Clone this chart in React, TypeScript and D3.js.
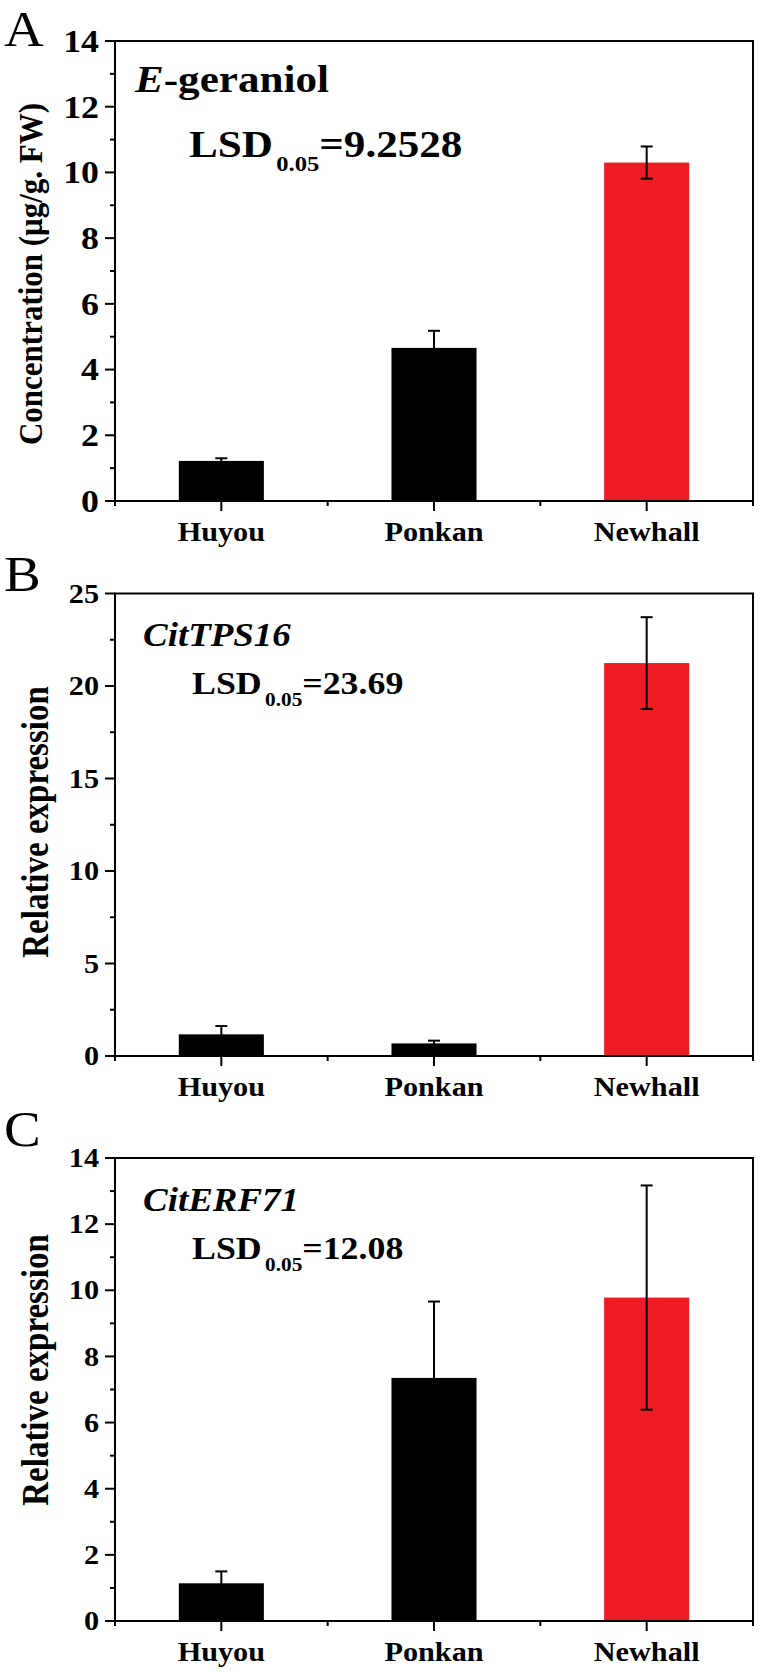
import React from "react";
import * as d3 from "d3";

const categories = ["Huyou", "Ponkan", "Newhall"];
const barColors = ["#000000", "#000000", "#ED1C24"];

const geraniolValues = [1.22, 4.66, 10.3];
const geraniolErrors = [0.08, 0.52, 0.49];

const tps16Values = [1.17, 0.68, 21.24];
const tps16Errors = [0.45, 0.15, 2.48];

const erf71Values = [1.14, 7.35, 9.78];
const erf71Errors = [0.36, 2.31, 3.39];

const SERIF = "'Liberation Serif', 'Times New Roman', serif";
const SX = 1.12;

type PanelProps = {
  letter: string;
  letterY: number;
  top: number;
  bottom: number;
  yMax: number;
  major: number;
  minor: number;
  values: number[];
  errors: number[];
  yTitle: string;
  titleX: number;
  titleY: number;
  titleSize: number;
  tickSize: number;
  label: React.ReactNode;
  labelX: number;
  labelY: number;
  labelSize: number;
  lsd: string;
  lsdX: number;
  lsdY: number;
  lsdSize: number;
  subSize: number;
  subDy: number;
};

function SText(props: {
  x: number;
  y: number;
  size: number;
  anchor?: string;
  bold?: boolean;
  dy?: string;
  sx?: number;
  children: React.ReactNode;
}) {
  const { x, y, size, anchor = "start", bold = true, dy, sx = SX, children } = props;
  return (
    <g transform={`translate(${x},${y}) scale(${sx},1)`}>
      <text
        x={0}
        y={0}
        dy={dy}
        fontFamily={SERIF}
        fontSize={size}
        fontWeight={bold ? "bold" : "normal"}
        textAnchor={anchor}
        fill="#000"
      >
        {children}
      </text>
    </g>
  );
}

const x = d3.scaleLinear().domain([0.5, 3.5]).range([115, 753]);

function Panel(p: PanelProps) {
  const y = d3.scaleLinear().domain([0, p.yMax]).range([p.bottom, p.top]);
  const majorTicks = d3.range(0, p.yMax + 1e-9, p.major);
  const minorTicks = d3
    .range(0, p.yMax + 1e-9, p.minor)
    .filter((v) => Math.abs(v / p.major - Math.round(v / p.major)) > 1e-6);
  const bw = x(1.4) - x(1);
  const cap = 6;
  const xMinor = [0.5, 1.5, 2.5, 3.5];
  return (
    <g>
      <SText x={4} y={p.letterY} size={51} bold={false} sx={1.08}>
        {p.letter}
      </SText>
      {p.values.map((v, i) => (
        <rect
          key={"b" + i}
          x={x(i + 1) - bw / 2}
          y={y(v)}
          width={bw}
          height={y(0) - y(v)}
          fill={barColors[i]}
        />
      ))}
      {p.values.map((v, i) => {
        const cx = x(i + 1);
        const hi = y(v + p.errors[i]);
        const lo = y(v - p.errors[i]);
        return (
          <g key={"e" + i} stroke="#000" strokeWidth={2}>
            <line x1={cx} x2={cx} y1={hi} y2={lo} />
            <line x1={cx - cap} x2={cx + cap} y1={hi} y2={hi} />
            <line x1={cx - cap} x2={cx + cap} y1={lo} y2={lo} />
          </g>
        );
      })}
      <rect
        x={x(0.5)}
        y={p.top}
        width={x(3.5) - x(0.5)}
        height={p.bottom - p.top}
        fill="none"
        stroke="#000"
        strokeWidth={2}
      />
      {majorTicks.map((t) => (
        <g key={"ym" + t}>
          <line x1={x(0.5) - 10} x2={x(0.5)} y1={y(t)} y2={y(t)} stroke="#000" strokeWidth={2} />
          <SText x={99} y={y(t)} size={p.tickSize} anchor="end" dy="0.34em">
            {d3.format("d")(t)}
          </SText>
        </g>
      ))}
      {minorTicks.map((t) => (
        <line key={"yn" + t} x1={x(0.5) - 5} x2={x(0.5)} y1={y(t)} y2={y(t)} stroke="#000" strokeWidth={2} />
      ))}
      {categories.map((c, i) => (
        <g key={"xc" + i}>
          <line x1={x(i + 1)} x2={x(i + 1)} y1={p.bottom} y2={p.bottom + 10} stroke="#000" strokeWidth={2} />
          <SText x={x(i + 1)} y={p.bottom + 40} size={27} anchor="middle">
            {c}
          </SText>
        </g>
      ))}
      {xMinor.map((t) => (
        <line key={"xn" + t} x1={x(t)} x2={x(t)} y1={p.bottom} y2={p.bottom + 5} stroke="#000" strokeWidth={2} />
      ))}
      <g transform={`translate(${p.titleX},${p.titleY}) scale(${SX},1) rotate(-90)`}>
        <text fontFamily={SERIF} fontSize={p.titleSize} fontWeight="bold" textAnchor="middle" fill="#000">
          {p.yTitle}
        </text>
      </g>
      <SText x={p.labelX} y={p.labelY} size={p.labelSize}>
        {p.label}
      </SText>
      <SText x={p.lsdX} y={p.lsdY} size={p.lsdSize}>
        LSD
        <tspan dx={3} dy={p.subDy} fontSize={p.subSize}>
          0.05
        </tspan>
        <tspan dy={-p.subDy}>{p.lsd}</tspan>
      </SText>
    </g>
  );
}

export default function App() {
  return (
    <svg
      width={763}
      height={1672}
      viewBox="0 0 763 1672"
      style={{ position: "absolute", left: 0, top: 0, background: "#fff" }}
    >
      <rect width={763} height={1672} fill="#fff" />
      <Panel
        letter="A"
        letterY={46}
        top={41}
        bottom={501}
        yMax={14}
        major={2}
        minor={1}
        values={geraniolValues}
        errors={geraniolErrors}
        yTitle="Concentration (μg/g. FW)"
        titleX={42}
        titleY={274}
        titleSize={31}
        tickSize={32}
        label={
          <>
            <tspan fontStyle="italic">E</tspan>-geraniol
          </>
        }
        labelX={135}
        labelY={92}
        labelSize={38.5}
        lsd="=9.2528"
        lsdX={189}
        lsdY={157}
        lsdSize={38.5}
        subSize={22}
        subDy={14}
      />
      <Panel
        letter="B"
        letterY={591}
        top={593.5}
        bottom={1056}
        yMax={25}
        major={5}
        minor={2.5}
        values={tps16Values}
        errors={tps16Errors}
        yTitle="Relative expression"
        titleX={48}
        titleY={822}
        titleSize={33}
        tickSize={27}
        label={<tspan fontStyle="italic">CitTPS16</tspan>}
        labelX={143}
        labelY={646}
        labelSize={33}
        lsd="=23.69"
        lsdX={192}
        lsdY={694}
        lsdSize={32}
        subSize={19}
        subDy={12}
      />
      <Panel
        letter="C"
        letterY={1146}
        top={1158}
        bottom={1621}
        yMax={14}
        major={2}
        minor={1}
        values={erf71Values}
        errors={erf71Errors}
        yTitle="Relative expression"
        titleX={48}
        titleY={1370}
        titleSize={33}
        tickSize={27}
        label={<tspan fontStyle="italic">CitERF71</tspan>}
        labelX={143}
        labelY={1211}
        labelSize={33}
        lsd="=12.08"
        lsdX={192}
        lsdY={1259}
        lsdSize={32}
        subSize={19}
        subDy={12}
      />
    </svg>
  );
}
